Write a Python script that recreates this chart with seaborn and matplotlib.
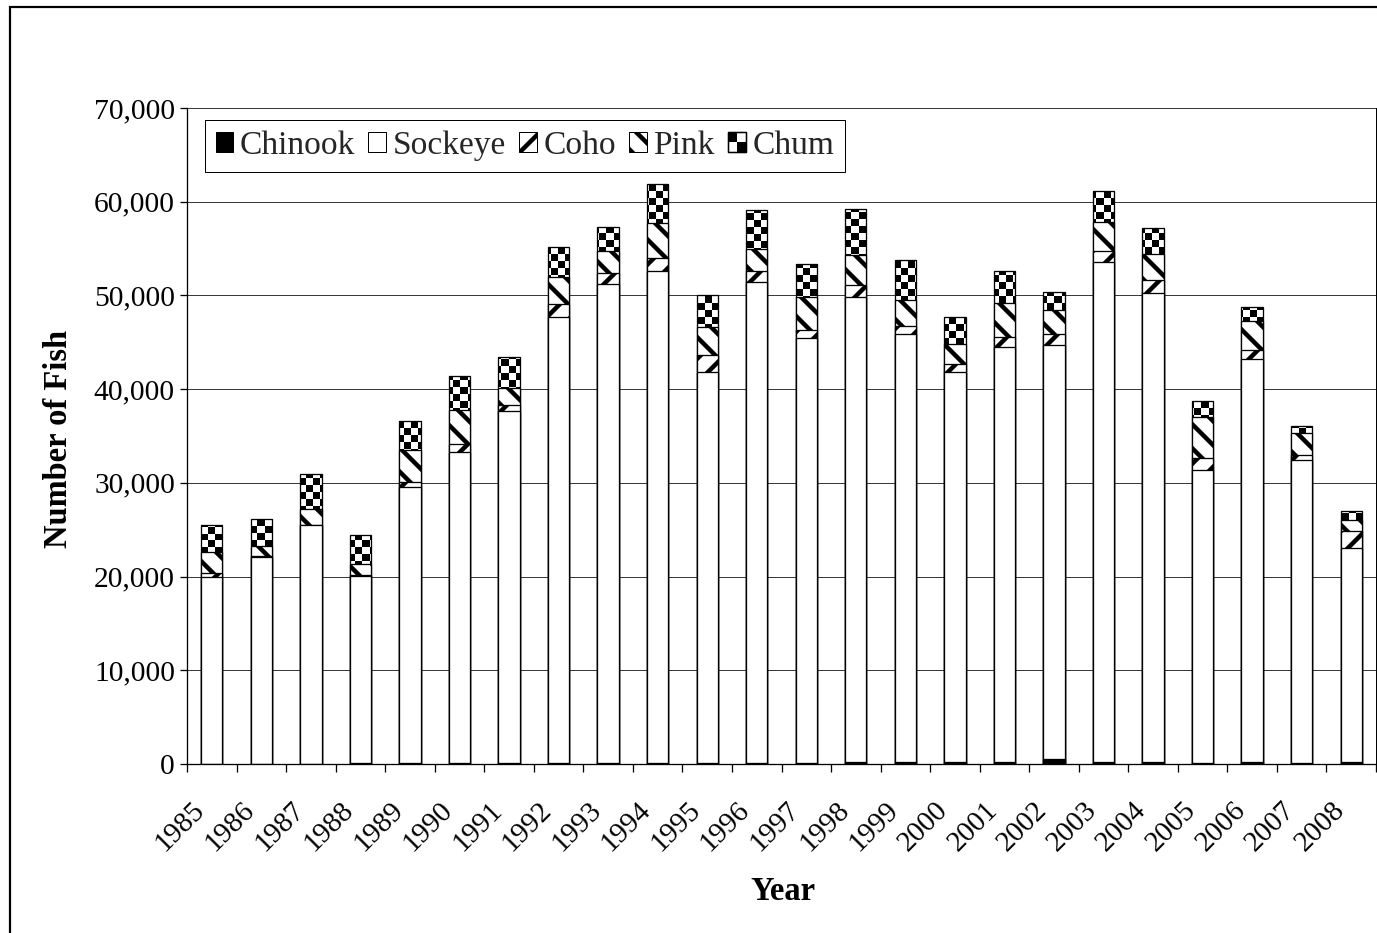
import numpy as np
import pandas as pd
import seaborn as sns
import matplotlib
matplotlib.use("Agg")
from matplotlib import pyplot as plt
from matplotlib.patches import Patch, Rectangle
from matplotlib.legend_handler import HandlerBase
from matplotlib.ticker import StrMethodFormatter
from matplotlib.transforms import ScaledTranslation

# data (number of fish per species and year)
years = [str(y) for y in range(1985, 2009)]
chinook = [30, 40, 40, 150, 150, 150, 150, 60, 150, 150, 150, 150,
           60, 180, 250, 250, 250, 550, 180, 250, 120, 250, 150, 180]
sockeye = [19960, 22010, 25430, 19910, 29370, 33110, 37480, 47600, 51100, 52420, 41710, 51250,
           45360, 49680, 45600, 41620, 44240, 44120, 53360, 49990, 31300, 43010, 32280, 22830]
coho = [390, 150, 80, 90, 600, 880, 640, 1390, 1170, 1420, 1750, 1240,
        850, 1210, 900, 860, 1110, 1180, 1250, 1440, 1190, 970, 540, 1900]
pink = [2210, 1060, 1630, 1160, 3380, 3630, 1820, 2880, 2350, 3770, 3050, 2340,
        3520, 3200, 2750, 2120, 3640, 2570, 3040, 2740, 4470, 3050, 2360, 1080]
chum = [2890, 2910, 3760, 3160, 3130, 3630, 3300, 3270, 2490, 4090, 3420, 4130,
        3520, 4980, 4290, 2900, 3370, 1900, 3330, 2800, 1610, 1500, 740, 1000]
species = ['Chinook', 'Sockeye', 'Coho', 'Pink', 'Chum']
ytick_values = list(range(0, 70001, 10000))

df = pd.DataFrame({'Year': years, 'Chinook': chinook, 'Sockeye': sockeye,
                   'Coho': coho, 'Pink': pink, 'Chum': chum})
# cumulative tops, drawn tallest first so each layer covers the one below
tops = df[species].cumsum(axis=1)
tops['Year'] = df['Year']

sns.set_theme(style='white')
plt.rcParams['font.family'] = ['Liberation Serif', 'DejaVu Serif']
plt.rcParams['hatch.linewidth'] = 4.5

W, H = 1377, 933
fig = plt.figure(figsize=(W / 72, H / 72), dpi=72)
ax = fig.add_axes([187 / W, 1 - 764 / H, (1376 - 187) / W, (764 - 108) / H])

bar_w = 0.43
layers = [('Chum', 'none', None, 3),
          ('Pink', 'white', '\\', 4),
          ('Coho', 'white', '/', 5),
          ('Sockeye', 'white', None, 6),
          ('Chinook', 'black', None, 7)]
chum_bars = None
for name, fc, hatch, z in layers:
    sns.barplot(data=tops, x='Year', y=name, color='white', width=bar_w,
                errorbar=None, ax=ax, zorder=z)
    bars = ax.containers[-1]
    for p in bars:
        p.set_facecolor(fc)
        p.set_edgecolor('black')
        p.set_linewidth(1.3)
        p.set_zorder(z)
        if hatch:
            p.set_hatch(hatch)
    if name == 'Chum':
        chum_bars = list(bars)

# checkerboard fill for chum, clipped to each chum bar
ny, nx = 94, 170
checker = (np.add.outer(np.arange(ny), np.arange(nx)) % 2).astype(float)
for p in chum_bars:
    im = ax.imshow(checker, cmap='gray', extent=(-0.5, 23.5, 0, 70000),
                   aspect='auto', interpolation='nearest', zorder=2.9, origin='lower')
    im.set_clip_path(p)

ax.set_xlim(-0.5, 23.5)
ax.set_ylim(0, 70000)
ax.set_yticks(ytick_values)
ax.yaxis.set_major_formatter(StrMethodFormatter('{x:,.0f}'))
ax.yaxis.grid(True, color='#3a3a3a', linewidth=1)
ax.set_axisbelow(True)

ax.spines['top'].set_visible(False)
for s in ['left', 'bottom', 'right']:
    ax.spines[s].set_color('black')
    ax.spines[s].set_linewidth(1.3)
ax.spines['right'].set_linewidth(1)

ax.set_xticks(np.arange(-0.5, 24, 1), minor=True)
ax.tick_params(axis='x', which='minor', length=8, width=1.3, color='black', direction='out', bottom=True)
ax.tick_params(axis='x', which='major', length=0, pad=33, labelsize=29, colors='black')
ax.tick_params(axis='y', which='major', length=7, width=1.3, color='black', direction='out',
               left=True, pad=5, labelsize=29.5, labelcolor='black')
ax.set_xticks(range(len(years)))
ax.set_xticklabels(years)
shift = ScaledTranslation(-20 / 72, 0, fig.dpi_scale_trans)
for lab in ax.get_xticklabels():
    lab.set_rotation(45)
    lab.set_ha('right')
    lab.set_va('top')
    lab.set_rotation_mode('anchor')
    lab.set_transform(lab.get_transform() + shift)

ax.set_xlabel('Year', fontsize=32.5, fontweight='bold', color='black')
ax.set_ylabel('Number of Fish', fontsize=32.5, fontweight='bold', color='black')
ax.xaxis.set_label_coords(0.501, -0.170)
ax.yaxis.set_label_coords(-0.095, 0.495)


class CheckerHandler(HandlerBase):
    def create_artists(self, legend, orig_handle, xdescent, ydescent,
                       width, height, fontsize, trans):
        x0, y0 = -xdescent, -ydescent
        h = height / 2
        w = width / 2
        arts = [Rectangle((x0, y0), width, height, facecolor='white',
                          edgecolor='black', lw=1.3, transform=trans)]
        for dx, dy in [(0, 1), (1, 0)]:
            arts.append(Rectangle((x0 + dx * w, y0 + dy * h), w, h, facecolor='black',
                                  edgecolor='none', transform=trans))
        arts.append(Rectangle((x0, y0), width, height, facecolor='none',
                              edgecolor='black', lw=1.3, transform=trans))
        return arts


handles = [Patch(facecolor='black', edgecolor='black', label='Chinook'),
           Patch(facecolor='white', edgecolor='black', label='Sockeye'),
           Patch(facecolor='white', edgecolor='black', hatch='/', label='Coho'),
           Patch(facecolor='white', edgecolor='black', hatch='\\', label='Pink')]
chum_handle = Patch(facecolor='white', edgecolor='black', label='Chum')
handles.append(chum_handle)
leg = ax.legend(handles=handles, loc='upper left', bbox_to_anchor=(0.015, 0.982),
                ncol=5, fontsize=33.5, frameon=True, fancybox=False, shadow=False,
                handlelength=0.52, handleheight=0.52, handletextpad=0.2,
                columnspacing=0.4, borderpad=0.32, borderaxespad=0,
                handler_map={chum_handle: CheckerHandler()})
leg.get_frame().set_edgecolor('black')
leg.get_frame().set_linewidth(1)
leg.get_frame().set_alpha(1)
leg.set_zorder(10)

# chart border (only top and left edges fall inside the picture)
fig.add_artist(Rectangle((10 / W, -0.5), 2, 1.5 - 7 / H, transform=fig.transFigure,
                         facecolor='none', edgecolor='black', linewidth=2.2))

fig.savefig('out.png', dpi=72, facecolor='white')
